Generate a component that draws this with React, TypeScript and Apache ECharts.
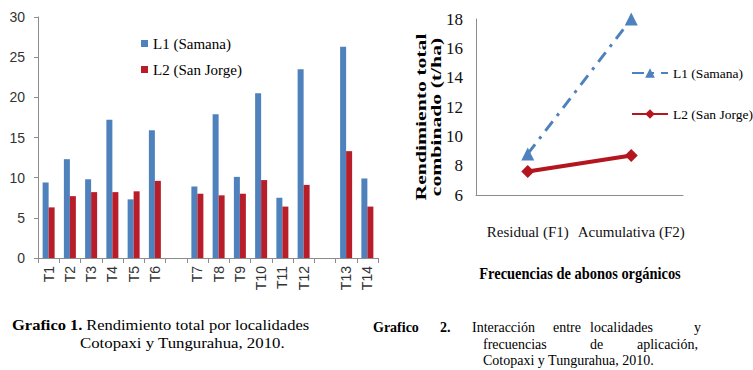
import React, { useEffect, useRef } from "react";
import * as echarts from "echarts";

// Grafico 1 data ("" marks the empty spacing slots)
const barCategories = ["T1", "T2", "T3", "T4", "T5", "T6", "", "T7", "T8", "T9", "T10", "T11", "T12", "", "T13", "T14"];
const l1Samana = [9.4, 12.3, 9.8, 17.2, 7.3, 15.9, null, 8.9, 17.9, 10.1, 20.5, 7.5, 23.5, null, 26.3, 9.9];
const l2SanJorge = [6.3, 7.7, 8.2, 8.2, 8.3, 9.6, null, 8.0, 7.8, 8.0, 9.7, 6.4, 9.1, null, 13.3, 6.4];
const barTicks = [0, 5, 10, 15, 20, 25, 30];

// Grafico 2 data
const freqCategories = ["Residual (F1)", "Acumulativa (F2)"];
const lineL1 = [8.8, 18.0];
const lineL2 = [7.6, 8.7];
const lineTicks = [6, 8, 10, 12, 14, 16, 18];

const seriesNames = ["L1 (Samana)", "L2 (San Jorge)"];

const SERIF = "Liberation Serif";
const SERIF2 = "Times New Roman, Liberation Serif, serif";
const SANS = "Liberation Sans";
const BLUE = "#4F81BD";
const RED = "#B81D2A";
const LINE_RED = "#B3161F";

function txt(text: string, x: number, y: number, extra: any = {}, styleExtra: any = {}) {
  return {
    type: "text",
    x,
    y,
    ...extra,
    style: {
      text,
      fontFamily: SERIF,
      fontSize: 14,
      fill: "#000",
      verticalAlign: "middle",
      ...styleExtra,
    },
  };
}

export default function App() {
  const ref = useRef<HTMLDivElement>(null);
  useEffect(() => {
    if (!ref.current) return;
    const chart = echarts.init(ref.current, null, { renderer: "svg" });
    const lineNameMap: Record<string, string> = { l1line: seriesNames[0], l2line: seriesNames[1] };
    chart.setOption({
      animation: false,
      backgroundColor: "#ffffff",
      grid: [
        { left: 38, right: 375, top: 17, bottom: 112, containLabel: false },
        { left: 476, right: 70, top: 19, bottom: 175, containLabel: false },
      ],
      legend: [
        {
          data: [
            { name: seriesNames[0], icon: "rect" },
            { name: seriesNames[1], icon: "rect" },
          ],
          left: 136,
          top: 31,
          orient: "vertical",
          itemWidth: 7,
          itemHeight: 7,
          itemGap: 11,
          selectedMode: false,
          textStyle: { fontFamily: SERIF2, fontSize: 15, color: "#000" },
        },
        {
          data: ["l1line", "l2line"],
          formatter: (n: string) => lineNameMap[n] || n,
          left: 626,
          top: 61,
          orient: "vertical",
          itemWidth: 36,
          itemHeight: 12,
          itemGap: 27,
          selectedMode: false,
          textStyle: { fontFamily: SERIF2, fontSize: 13.5, color: "#000" },
        },
      ],
      xAxis: [
        {
          type: "category",
          gridIndex: 0,
          data: barCategories,
          boundaryGap: true,
          axisLine: { lineStyle: { color: "#8c8c8c", width: 1 } },
          axisTick: { show: true, interval: 0, length: 5, lineStyle: { color: "#8c8c8c" } },
          axisLabel: { interval: 0, rotate: 90, margin: 8, fontFamily: SANS, fontSize: 14, color: "#333" },
        },
        {
          type: "category",
          gridIndex: 1,
          data: freqCategories,
          boundaryGap: true,
          axisLine: { lineStyle: { color: "#8c8c8c", width: 1 } },
          axisTick: { show: false },
          axisLabel: { interval: 0, margin: 29, fontFamily: SERIF2, fontSize: 15, color: "#111" },
        },
      ],
      yAxis: [
        {
          type: "value",
          gridIndex: 0,
          min: barTicks[0],
          max: barTicks[barTicks.length - 1],
          interval: 5,
          splitLine: { show: false },
          axisLine: { show: true, lineStyle: { color: "#8c8c8c", width: 1 } },
          axisTick: { show: true, length: 4, lineStyle: { color: "#8c8c8c" } },
          axisLabel: { margin: 13, fontFamily: SANS, fontSize: 14, color: "#333" },
        },
        {
          type: "value",
          gridIndex: 1,
          min: lineTicks[0],
          max: lineTicks[lineTicks.length - 1],
          interval: 2,
          splitLine: { show: false },
          axisLine: { show: true, lineStyle: { color: "#8c8c8c", width: 1 } },
          axisTick: { show: false },
          axisLabel: { margin: 13, fontFamily: SERIF2, fontSize: 17, color: "#111" },
        },
      ],
      series: [
        {
          name: seriesNames[0],
          type: "bar",
          xAxisIndex: 0,
          yAxisIndex: 0,
          data: l1Samana,
          barWidth: 6,
          barGap: "0%",
          itemStyle: { color: BLUE },
        },
        {
          name: seriesNames[1],
          type: "bar",
          xAxisIndex: 0,
          yAxisIndex: 0,
          data: l2SanJorge,
          barWidth: 6,
          barGap: "0%",
          itemStyle: { color: RED },
        },
        {
          name: "l1line",
          type: "line",
          xAxisIndex: 1,
          yAxisIndex: 1,
          data: lineL1,
          symbol: "triangle",
          symbolSize: 13,
          lineStyle: { color: BLUE, width: 3, type: [12, 7, 3, 7] },
          itemStyle: { color: BLUE },
        },
        {
          name: "l2line",
          type: "line",
          xAxisIndex: 1,
          yAxisIndex: 1,
          data: lineL2,
          symbol: "diamond",
          symbolSize: 13,
          lineStyle: { color: LINE_RED, width: 4 },
          itemStyle: { color: LINE_RED },
        },
      ],
      graphic: [
        txt("Rendimiento total", 421, 117, { rotation: Math.PI / 2, scaleX: 1.55 }, {
          fontWeight: "bold", fontSize: 14, align: "center",
        }),
        txt("combinado (t/ha)", 436, 117, { rotation: Math.PI / 2, scaleX: 1.55 }, {
          fontWeight: "bold", fontSize: 14, align: "center",
        }),
        txt("Frecuencias de abonos orgánicos", 580, 273, { scaleX: 0.85 }, {
          fontWeight: "bold", fontSize: 17, align: "center",
        }),
        // Caption 1
        {
          type: "text",
          x: 12,
          y: 325,
          scaleX: 1.1,
          style: {
            rich: {
              b: { fontFamily: SERIF, fontWeight: "bold", fontSize: 15, fill: "#000" },
              n: { fontFamily: SERIF, fontSize: 15, fill: "#000" },
            },
            text: "{b|Grafico 1.} {n|Rendimiento total por localidades}",
            verticalAlign: "middle",
          },
        },
        txt("Cotopaxi y Tungurahua, 2010.", 80, 343, { scaleX: 1.12 }, { fontSize: 15 }),
        // Caption 2 (justified)
        txt("Grafico", 373, 327, {}, { fontWeight: "bold" }),
        txt("2.", 440, 327, {}, { fontWeight: "bold" }),
        txt("Interacción", 472, 327),
        txt("entre", 553, 327),
        txt("localidades", 590, 327),
        txt("y", 701, 327, {}, { align: "right" }),
        txt("frecuencias", 483, 344),
        txt("de", 590, 344),
        txt("aplicación,", 698, 344, {}, { align: "right" }),
        txt("Cotopaxi y Tungurahua, 2010.", 483, 360),
      ],
    });
    return () => chart.dispose();
  }, []);
  return (
    <div
      ref={ref}
      style={{ position: "absolute", left: 0, top: 0, width: 753, height: 370 }}
    />
  );
}
